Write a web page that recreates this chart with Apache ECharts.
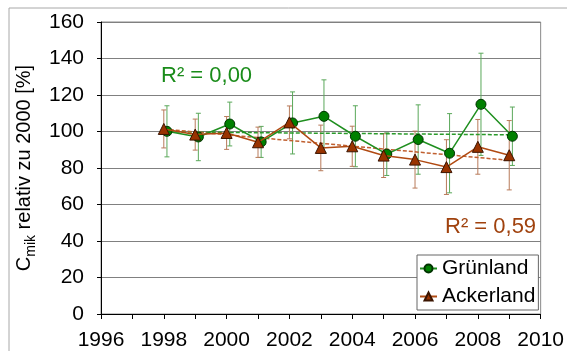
<!DOCTYPE html>
<html>
<head>
<meta charset="utf-8">
<script src="https://cdn.jsdelivr.net/npm/echarts@6/dist/echarts.min.js"></script>
<style>
html,body{margin:0;padding:0;background:#fff;}
#c{width:567px;height:351px;}
</style>
</head>
<body>
<div id="c"></div>
<script>
// ---- data ----
const years = [1998, 1999, 2000, 2001, 2002, 2003, 2004, 2005, 2006, 2007, 2008, 2009];
const gruenland = [100.1, 97.0, 104.1, 94.3, 104.7, 108.3, 97.4, 87.6, 95.6, 88.1, 114.9, 97.4];
const gruenlandErr = [14, 13, 12, 8.5, 17, 20, 16.7, 11.7, 19, 21.7, 28, 16];
const ackerland = [101.4, 98.3, 99.2, 94.1, 105.0, 91.0, 91.9, 86.8, 84.6, 80.5, 91.6, 87.0];
const ackerlandErr = [10.4, 8.5, 9, 8.3, 9, 12.5, 11, 12, 15.6, 15, 15, 19];
const trendYears = [1998, 2009];
const gruenTrend = [99.8, 98.2];
const ackerTrend = [101.3, 84.2];
const r2Gruen = 'R² = 0,00';
const r2Acker = 'R² = 0,59';
const greenOffset = 0.1; // green series drawn slightly right of the year in the reference

const FONT = 'Liberation Sans, Arial, sans-serif';
const GREEN = '#008000', GREEN_LINE = '#1f8f1f', GREEN_ERR = '#5aa85a';
const BROWN = '#993300', BROWN_LINE = '#b04a12', BROWN_ERR = '#b87a5a';

function pts(xs, ys, off) { return xs.map((x, i) => [x + off, ys[i]]); }
function errData(xs, ys, es, off) { return xs.map((x, i) => [x + off, ys[i] - es[i], ys[i] + es[i]]); }

function errRender(color) {
  return function (params, api) {
    const x = api.value(0), lo = api.value(1), hi = api.value(2);
    const a = api.coord([x, hi]), b = api.coord([x, lo]);
    const w = 2.5;
    const st = { stroke: color, lineWidth: 1 };
    return { type: 'group', children: [
      { type: 'line', shape: { x1: a[0], y1: a[1], x2: b[0], y2: b[1] }, style: st },
      { type: 'line', shape: { x1: a[0] - w, y1: a[1], x2: a[0] + w, y2: a[1] }, style: st },
      { type: 'line', shape: { x1: b[0] - w, y1: b[1], x2: b[0] + w, y2: b[1] }, style: st }
    ]};
  };
}

const chart = echarts.init(document.getElementById('c'), null, { renderer: 'canvas' });
chart.setOption({
  animation: false,
  backgroundColor: '#fff',
  textStyle: { fontFamily: FONT },
  grid: { left: 101, right: 26, top: 22, bottom: 36, show: true, borderColor: '#8a8a8a', borderWidth: 1, backgroundColor: 'transparent' },
  xAxis: {
    type: 'value', min: 1996, max: 2010, interval: 2,
    axisLine: { lineStyle: { color: '#000', width: 1 } },
    axisTick: { length: 5, lineStyle: { color: '#000' } },
    minorTick: { show: true, splitNumber: 2, length: 5, lineStyle: { color: '#000' } },
    splitLine: { show: false },
    axisLabel: { color: '#000', fontSize: 21, fontFamily: FONT, margin: 16, formatter: v => String(v) }
  },
  yAxis: {
    type: 'value', min: 0, max: 160, interval: 20,
    axisLine: { show: true, lineStyle: { color: '#000', width: 1 } },
    axisTick: { show: true, length: 4, lineStyle: { color: '#000' } },
    splitLine: { lineStyle: { color: '#808080', width: 1 } },
    axisLabel: { color: '#000', fontSize: 21, fontFamily: FONT, margin: 17 },
    name: '{a|C}{s|mik}{a| relativ zu 2000 [%]}',
    nameLocation: 'middle', nameGap: 58, nameRotate: 90,
    nameTextStyle: {
      rich: {
        a: { fontSize: 20, fontFamily: FONT, color: '#000', lineHeight: 24, verticalAlign: 'bottom' },
        s: { fontSize: 14, fontFamily: FONT, color: '#000', lineHeight: 18, verticalAlign: 'bottom', padding: [0, 0, -4, 0] }
      }
    }
  },
  legend: {
    data: ['Grünland', 'Ackerland'],
    orient: 'vertical', left: 417, top: 255,
    backgroundColor: '#fff', borderColor: '#666', borderWidth: 1,
    padding: [3, 3, 3, 2], itemGap: 7, itemWidth: 17, itemHeight: 10,
    textStyle: { fontSize: 21, fontFamily: FONT, color: '#000' }
  },
  graphic: [
    { type: 'rect', shape: { x: 9, y: 8, width: 700, height: 500 }, style: { fill: 'none', stroke: '#a8a8a8', lineWidth: 1 }, silent: true, z: -10 },
    { type: 'text', x: 161, y: 76, style: { text: r2Gruen, fill: '#1a8c1a', font: '22px ' + FONT, textVerticalAlign: 'middle' }, z: 10 },
    { type: 'text', x: 445, y: 227, style: { text: r2Acker, fill: '#a0420e', font: '22px ' + FONT, textVerticalAlign: 'middle' }, z: 10 }
  ],
  series: [
    { name: 'gErr', type: 'custom', renderItem: errRender(GREEN_ERR), data: errData(years, gruenland, gruenlandErr, greenOffset), z: 2, silent: true },
    { name: 'aErr', type: 'custom', renderItem: errRender(BROWN_ERR), data: errData(years, ackerland, ackerlandErr, 0), z: 2, silent: true },
    { name: 'gTrend', type: 'line', data: pts(trendYears, gruenTrend, 0), symbol: 'none', lineStyle: { color: '#2a9a2a', width: 1.5, type: [4, 2] }, z: 3, silent: true },
    { name: 'aTrend', type: 'line', data: pts(trendYears, ackerTrend, 0), symbol: 'none', lineStyle: { color: '#c06030', width: 1.5, type: [4, 2] }, z: 3, silent: true },
    { name: 'Grünland', type: 'line', data: pts(years, gruenland, greenOffset), symbol: 'circle', symbolSize: 10,
      itemStyle: { color: GREEN, borderColor: '#003300', borderWidth: 1 }, lineStyle: { color: GREEN_LINE, width: 1.5 }, z: 4 },
    { name: 'Ackerland', type: 'line', data: pts(years, ackerland, 0), symbol: 'triangle', symbolSize: 11,
      itemStyle: { color: BROWN, borderColor: '#3a1400', borderWidth: 1 }, lineStyle: { color: BROWN_LINE, width: 1.5 }, z: 5 }
  ]
});
</script>
</body>
</html>
